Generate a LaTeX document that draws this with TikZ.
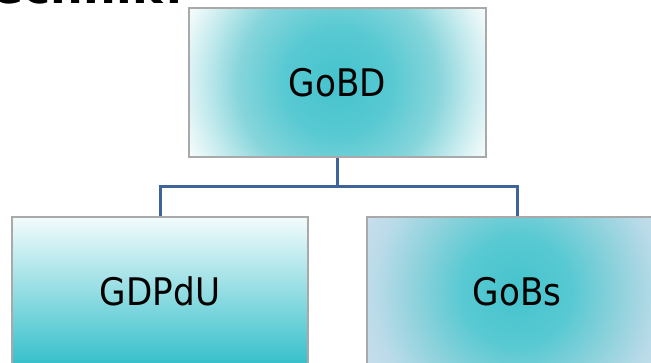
\documentclass[tikz,border=0pt]{standalone}
\usepackage{fontspec}
\newfontfamily\labfont[FakeStretch=0.9]{DejaVu Sans}
\newfontfamily\titlefont{DejaVu Sans}
\definecolor{tealc}{HTML}{45C3CD}
\definecolor{tealb}{HTML}{34BFCA}
\definecolor{tealm}{HTML}{86D5DB}
\definecolor{paleW}{HTML}{E4F5F6}
\definecolor{paleB}{HTML}{C6DDEC}
\definecolor{paleBm}{HTML}{8ED2DC}
\definecolor{edgegray}{HTML}{A9A9A9}
\definecolor{linkblue}{HTML}{3E6499}
\pgfdeclareradialshading{circwhite}{\pgfpoint{0bp}{0bp}}{%
  color(0bp)=(tealc); color(8bp)=(tealc!90!white); color(15bp)=(tealm);
  color(20bp)=(tealm!50!white); color(23bp)=(paleW); color(25bp)=(white!96!tealc);
  color(50bp)=(white)}
\pgfdeclareradialshading{circblue}{\pgfpoint{0bp}{0bp}}{%
  color(0bp)=(tealc); color(8bp)=(tealc!90!white); color(15bp)=(paleBm);
  color(21bp)=(paleB!80!paleBm); color(24bp)=(paleB); color(25bp)=(paleB!90!white);
  color(50bp)=(paleB!80!white)}
\tikzset{
  box/.style={draw=edgegray, line width=1.2pt, rectangle, inner sep=0pt,
    minimum height=149, font=\labfont\fontsize{38}{44}\selectfont},
  radwhite/.style={path picture={\shade[shading=circwhite]
    ([shift={(-166pt,-166pt)}]path picture bounding box.center) rectangle
    ([shift={(166pt,166pt)}]path picture bounding box.center);}},
  radblue/.style={path picture={\shade[shading=circblue]
    ([shift={(-170pt,-170pt)}]path picture bounding box.center) rectangle
    ([shift={(170pt,170pt)}]path picture bounding box.center);}},
  link/.style={draw=linkblue, line width=3pt}
}
\begin{document}
\begin{tikzpicture}[x=1pt,y=-1pt]
\useasboundingbox (0,0) rectangle (651,363);
\clip (0,0) rectangle (651,363);
\fill[white] (0,0) rectangle (651,363);
\node[anchor=base west, inner sep=0pt, font=\titlefont\bfseries\fontsize{46}{50}\selectfont]
  (title) at (-33,4) {Technik?};
\node[box, radwhite, minimum width=297] (gobd) at (337.5,82.5) {GoBD};
\node[box, top color=white!94!tealb, bottom color=tealb, minimum width=296] (gdpdu) at (160,291.5) {GDPdU};
\node[box, radblue, minimum width=300] (gobs) at (517,291.5) {GoBs};
\coordinate (fork) at (337.5,186.5);
\draw[link] (gobd.south) -- (fork);
\draw[link] (fork) -| (gdpdu.north);
\draw[link] (fork) -| (gobs.north);
\end{tikzpicture}
\end{document}
